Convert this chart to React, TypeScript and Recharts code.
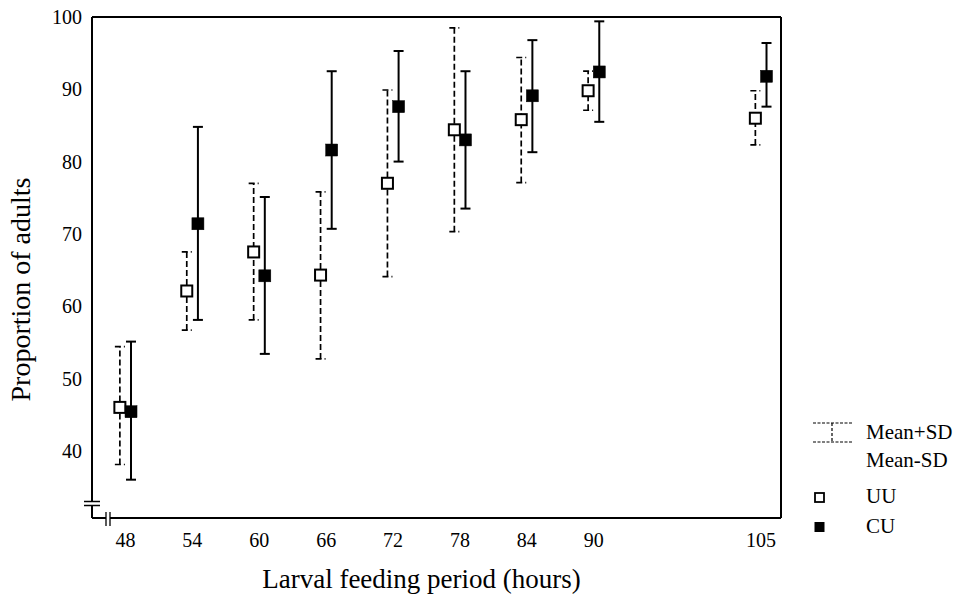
import React from 'react';
import { ScatterChart, Scatter, XAxis, YAxis, ErrorBar, ReferenceLine, Legend } from 'recharts';

// Larval feeding period (hours)
const hours = [48, 54, 60, 66, 72, 78, 84, 90, 105];
// UU series
const uuMean = [46.0, 62.1, 67.5, 64.3, 77.0, 84.4, 85.8, 89.8, 86.0];
const uuUpper = [54.4, 67.5, 77.0, 75.8, 89.9, 98.5, 94.4, 92.5, 89.8];
const uuLower = [38.1, 56.7, 58.1, 52.7, 64.1, 70.3, 77.1, 87.1, 82.3];
// CU series
const cuMean = [45.4, 71.4, 64.2, 81.6, 87.6, 83.0, 89.1, 92.4, 91.8];
const cuUpper = [55.1, 84.8, 75.1, 92.5, 95.3, 92.5, 96.8, 99.4, 96.4];
const cuLower = [36.0, 58.1, 53.4, 70.7, 80.0, 73.5, 81.3, 85.5, 87.6];

const yTicks = [40, 50, 60, 70, 80, 90, 100];

const uuData = hours.map((h, i) => ({
  hour: h,
  mean: uuMean[i],
  err: [uuMean[i] - uuLower[i], uuUpper[i] - uuMean[i]],
}));
const cuData = hours.map((h, i) => ({
  hour: h,
  mean: cuMean[i],
  err: [cuMean[i] - cuLower[i], cuUpper[i] - cuMean[i]],
}));

const FONT = '"Liberation Serif", "DejaVu Serif", serif';
const X_MIN = 45;
const X_MAX = 106.8;
const SHIFT = 0.5;

const UUShape = (p: any) => (
  <rect x={p.cx - 5.5} y={p.cy - 5.5} width={11} height={11} fill="#fff" stroke="#000" strokeWidth={2} />
);
const CUShape = (p: any) => (
  <rect x={p.cx - 6} y={p.cy - 6} width={12} height={12} fill="#000" stroke="#000" strokeWidth={0.5} />
);
const NoShape = () => <g />;

const LegendContent = () => (
  <svg width={150} height={130} style={{ display: 'block' }}>
    <g stroke="#000" strokeWidth={1.2} fill="none">
      <line x1={3} y1={8} x2={42} y2={8} strokeDasharray="3 1.5" />
      <line x1={3} y1={27} x2={42} y2={27} strokeDasharray="3 1.5" />
      <line x1={22} y1={8} x2={22} y2={27} strokeDasharray="3 2" />
    </g>
    <text x={56} y={19} fontFamily={FONT} fontSize={21} fill="#000" dominantBaseline="middle">Mean+SD</text>
    <text x={56} y={47} fontFamily={FONT} fontSize={21} fill="#000" dominantBaseline="middle">Mean-SD</text>
    <rect x={5} y={78} width={9} height={9} fill="#fff" stroke="#000" strokeWidth={1.8} />
    <text x={56} y={83} fontFamily={FONT} fontSize={21} fill="#000" dominantBaseline="middle">UU</text>
    <rect x={4.5} y={107} width={10} height={10} fill="#000" />
    <text x={56} y={113} fontFamily={FONT} fontSize={21} fill="#000" dominantBaseline="middle">CU</text>
  </svg>
);

const YTitle = (props: any) => {
  const vb = props.viewBox;
  const cx = vb.x + 24;
  const cy = vb.y + vb.height / 2 + 22;
  return (
    <text x={cx} y={cy} transform={`rotate(-90, ${cx}, ${cy})`} textAnchor="middle" dominantBaseline="middle"
      fontFamily={FONT} fontSize={28} fill="#000">Proportion of adults</text>
  );
};
const XTitle = (props: any) => {
  const vb = props.viewBox;
  return (
    <text x={vb.x + vb.width / 2 - 15} y={vb.y + 70} textAnchor="middle" fontFamily={FONT} fontSize={27} fill="#000">
      Larval feeding period (hours)
    </text>
  );
};

export default function App() {
  return (
    <div style={{ position: 'absolute', left: 0, top: 0, width: 961, height: 595, background: '#fff' }}>
      <ScatterChart width={961} height={595} margin={{ top: 17, right: 180, bottom: 0, left: 0 }}>
        <XAxis
          xAxisId="main"
          type="number"
          dataKey="hour"
          domain={[X_MIN, X_MAX]}
          ticks={hours}
          interval={0}
          allowDataOverflow
          height={77}
          tickLine={false}
          tickMargin={9}
          axisLine={{ stroke: '#000', strokeWidth: 2 }}
          tick={{ fontFamily: FONT, fontSize: 20, fill: '#000' }}
          label={<XTitle />}
        />
        <XAxis xAxisId="uu" orientation="top" height={0} type="number" dataKey="hour" domain={[X_MIN + SHIFT, X_MAX + SHIFT]} allowDataOverflow hide />
        <XAxis xAxisId="cu" orientation="top" height={0} type="number" dataKey="hour" domain={[X_MIN - SHIFT, X_MAX - SHIFT]} allowDataOverflow hide />
        <YAxis
          type="number"
          dataKey="mean"
          domain={[30.7, 100]}
          ticks={yTicks}
          interval={0}
          allowDataOverflow
          width={92}
          tickLine={false}
          tickMargin={4}
          axisLine={{ stroke: '#000', strokeWidth: 2 }}
          tick={{ fontFamily: FONT, fontSize: 20, fill: '#000' }}
          label={<YTitle />}
        />
        <Scatter xAxisId="main" data={uuData} shape={NoShape} legendType="none" isAnimationActive={false} />
        <ReferenceLine xAxisId="main" y={100} stroke="#000" strokeWidth={2} ifOverflow="visible" />
        <ReferenceLine xAxisId="main" x={X_MAX} stroke="#000" strokeWidth={2} ifOverflow="visible" />
        <Scatter name="UU" xAxisId="uu" data={uuData} shape={UUShape} isAnimationActive={false}>
          <ErrorBar dataKey="err" direction="y" width={5} stroke="#000" strokeWidth={1.7} strokeDasharray="6 3" isAnimationActive={false} />
        </Scatter>
        <Scatter name="CU" xAxisId="cu" data={cuData} shape={CUShape} isAnimationActive={false}>
          <ErrorBar dataKey="err" direction="y" width={5} stroke="#000" strokeWidth={2} isAnimationActive={false} />
        </Scatter>
        <Legend
          layout="vertical"
          align="center"
          verticalAlign="middle"
          content={<LegendContent />}
          wrapperStyle={{ position: 'absolute', left: 810, top: 415, width: 150, height: 130 }}
        />
      </ScatterChart>
      <svg width={961} height={595} style={{ position: 'absolute', left: 0, top: 0, pointerEvents: 'none' }}>
        <rect x={88} y={502} width={8} height={3.5} fill="#fff" />
        <line x1={84} y1={501.5} x2={100} y2={501.5} stroke="#000" strokeWidth={1.5} />
        <line x1={84} y1={505.5} x2={100} y2={505.5} stroke="#000" strokeWidth={1.5} />
        <rect x={106} y={515} width={4} height={6} fill="#fff" />
        <line x1={106} y1={512} x2={106} y2={526} stroke="#000" strokeWidth={1.3} />
        <line x1={110} y1={512} x2={110} y2={526} stroke="#000" strokeWidth={1.3} />
      </svg>
    </div>
  );
}
